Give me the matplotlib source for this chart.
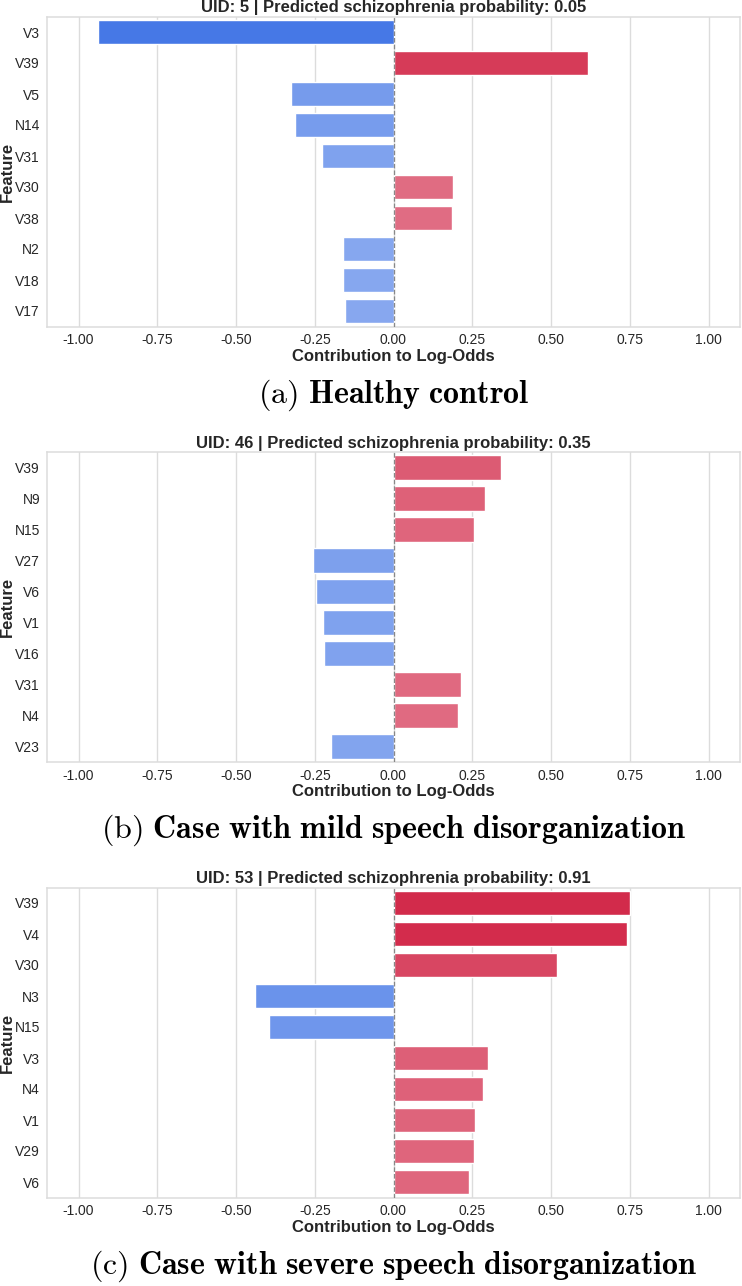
import matplotlib

matplotlib.use("Agg")

import matplotlib.pyplot as plt
import matplotlib.ticker as ticker
import numpy as np
from matplotlib.colors import to_rgb

# --- Data ---
uids = [5, 46, 53]
probs = [0.05, 0.35, 0.91]
captions = ["Healthy control",
            "Case with mild speech disorganization",
            "Case with severe speech disorganization"]

feat_a = ["V3", "V39", "V5", "N14", "V31", "V30", "V38", "N2", "V18", "V17"]
vals_a = [-0.939, 0.616, -0.324, -0.314, -0.227, 0.190, 0.187, -0.161, -0.161, -0.153]

feat_b = ["V39", "N9", "N15", "V27", "V6", "V1", "V16", "V31", "N4", "V23"]
vals_b = [0.340, 0.290, 0.255, -0.255, -0.245, -0.225, -0.220, 0.215, 0.205, -0.200]

feat_c = ["V39", "V4", "V30", "N3", "N15", "V3", "N4", "V1", "V29", "V6"]
vals_c = [0.750, 0.740, 0.520, -0.440, -0.395, 0.300, 0.285, 0.260, 0.255, 0.240]

panels = [(feat_a, vals_a), (feat_b, vals_b), (feat_c, vals_c)]
letters = ["a", "b", "c"]

# --- Style ---
plt.rcParams['font.family'] = ['Liberation Sans', 'DejaVu Sans']
plt.rcParams['mathtext.fontset'] = 'cm'
TEXT = '#262626'
GRID = '#dcdcdc'
NEG_BASE = '#4678e6'
POS_BASE = '#d12445'

W, H = 742, 1286
fig = plt.figure(figsize=(W / 100, H / 100), dpi=100)

LEFT, RIGHT = 47, 740
PERIOD = 435.5
TOP0 = 16.5
AX_H = 310


def bar_color(v):
    # stronger contributions get a more opaque colour
    alpha = min(1.0, 0.57 + 0.53 * abs(v))
    r, g, b = to_rgb(NEG_BASE if v < 0 else POS_BASE)
    return (r * alpha + (1 - alpha), g * alpha + (1 - alpha), b * alpha + (1 - alpha))


for i, (feats, vals) in enumerate(panels):
    top = TOP0 + i * PERIOD
    ax = fig.add_axes([LEFT / W, 1 - (top + AX_H) / H, (RIGHT - LEFT) / W, AX_H / H])
    y = np.arange(len(feats))
    ax.barh(y, vals, height=0.8, color=[bar_color(v) for v in vals],
            edgecolor='white', linewidth=1, zorder=2)
    ax.axvline(0, color='#888888', linestyle='--', linewidth=0.9, zorder=3)
    ax.set_yticks(y)
    ax.set_yticklabels(feats)
    ax.set_ylim(len(feats) - 0.5, -0.5)
    ax.set_xlim(-1.1, 1.1)
    ax.set_xticks([-1.0, -0.75, -0.5, -0.25, 0.0, 0.25, 0.5, 0.75, 1.0])
    ax.xaxis.set_major_formatter(ticker.FormatStrFormatter('%.2f'))
    ax.grid(True, axis='x', color=GRID, linewidth=1, zorder=0)
    ax.set_axisbelow(True)
    for s in ax.spines.values():
        s.set_color(GRID)
        s.set_linewidth(1.1)
    ax.tick_params(axis='both', length=0, labelsize=10, colors=TEXT, pad=5)
    ax.set_xlabel('Contribution to Log-Odds', fontsize=12, fontweight='bold',
                  color=TEXT, labelpad=1)
    ax.set_ylabel('Feature', fontsize=12, fontweight='bold', color=TEXT)
    ax.yaxis.set_label_coords(-0.047, 0.5)
    ax.set_title(f'UID: {uids[i]} | Predicted schizophrenia probability: {probs[i]:.2f}',
                 fontsize=12, fontweight='bold', color=TEXT, pad=3)

    cap = captions[i].replace(' ', r'\ ')
    fig.text((LEFT + RIGHT) / 2 / W, 1 - (top + 15.5 + 363) / H,
             r'$\mathrm{(' + letters[i] + r')}\ \mathbf{' + cap + '}$',
             ha='center', va='center', fontsize=23, color='black')

fig.savefig('out.png', dpi=100)
